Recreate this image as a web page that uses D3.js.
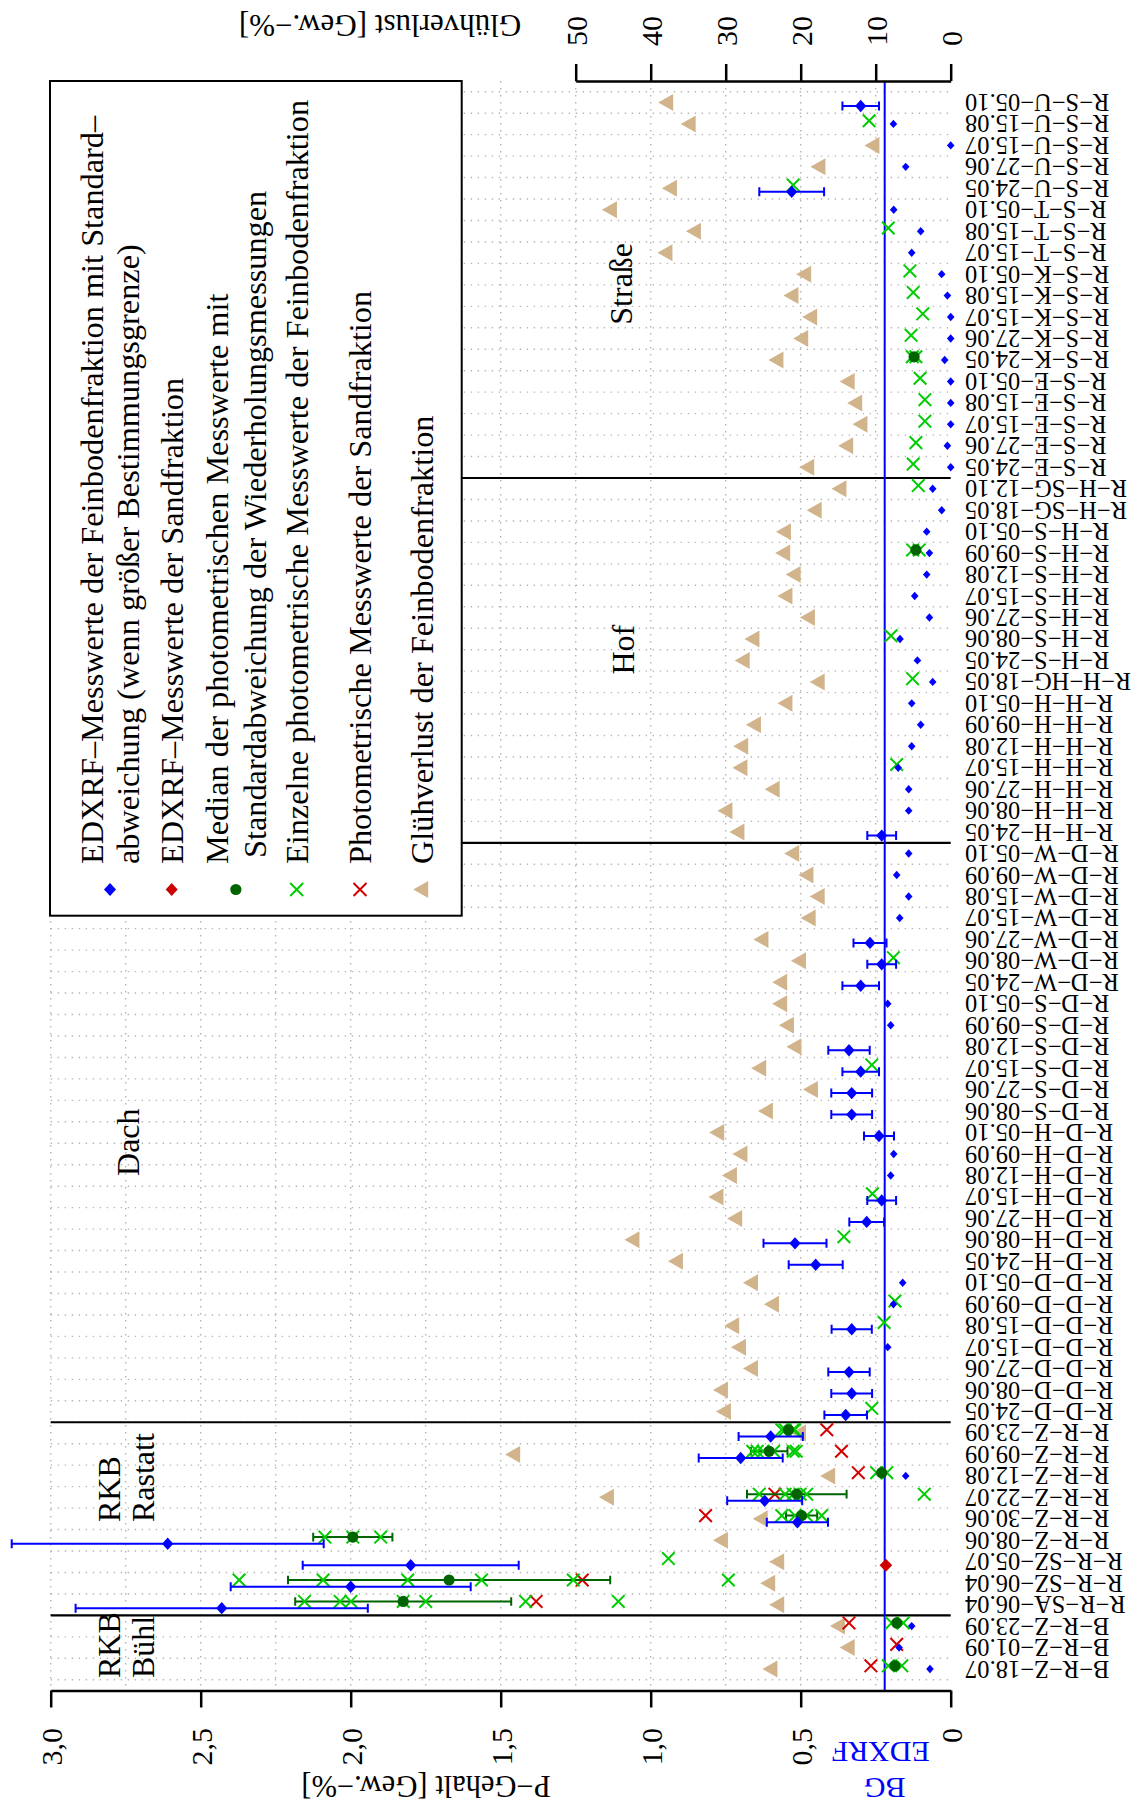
<!DOCTYPE html>
<html>
<head>
<meta charset="utf-8">
<script src="https://cdn.jsdelivr.net/npm/d3@7"></script>
<style>
  html, body { margin: 0; padding: 0; background: #fff; }
  svg { display: block; }
</style>
</head>
<body>
<svg id="chart" width="1137" height="1809"></svg>
<script>
// Sample sites, listed from the first position on the category axis to the last
const categories = [
  "B-R-Z-18.07", "B-R-Z-01.09", "B-R-Z-23.09",
  "R-R-SA-06.04", "R-R-SZ-06.04", "R-R-SZ-05.07", "R-R-Z-08.06", "R-R-Z-30.06",
  "R-R-Z-22.07", "R-R-Z-12.08", "R-R-Z-09.09", "R-R-Z-23.09",
  "R-D-D-24.05", "R-D-D-08.06", "R-D-D-27.06", "R-D-D-15.07", "R-D-D-15.08", "R-D-D-09.09", "R-D-D-05.10",
  "R-D-H-24.05", "R-D-H-08.06", "R-D-H-27.06", "R-D-H-15.07", "R-D-H-12.08", "R-D-H-09.09", "R-D-H-05.10",
  "R-D-S-08.06", "R-D-S-27.06", "R-D-S-15.07", "R-D-S-12.08", "R-D-S-09.09", "R-D-S-05.10",
  "R-D-W-24.05", "R-D-W-08.06", "R-D-W-27.06", "R-D-W-15.07", "R-D-W-15.08", "R-D-W-09.09", "R-D-W-05.10",
  "R-H-H-24.05", "R-H-H-08.06", "R-H-H-27.06", "R-H-H-15.07", "R-H-H-12.08", "R-H-H-09.09", "R-H-H-05.10",
  "R-H-HG-18.05",
  "R-H-S-24.05", "R-H-S-08.06", "R-H-S-27.06", "R-H-S-15.07", "R-H-S-12.08", "R-H-S-09.09", "R-H-S-05.10",
  "R-H-SG-18.05", "R-H-SG-12.10",
  "R-S-E-24.05", "R-S-E-27.06", "R-S-E-15.07", "R-S-E-15.08", "R-S-E-05.10",
  "R-S-K-24.05", "R-S-K-27.06", "R-S-K-15.07", "R-S-K-15.08", "R-S-K-05.10",
  "R-S-T-15.07", "R-S-T-15.08", "R-S-T-05.10",
  "R-S-U-24.05", "R-S-U-27.06", "R-S-U-15.07", "R-S-U-15.08", "R-S-U-05.10"
];

// Glühverlust der Feinbodenfraktion [Gew.-%], one value per site
const gluehverlust = [
  24.1, 13.8, 15.1,
  23.2, 24.4, 23.2, 30.7, 25.4, 45.9, 16.4, 58.4, 20.3,
  30.3, 30.7, 26.7, 28.3, 29.2, 23.9, 26.7,
  36.7, 42.5, 28.8, 31.3, 29.5, 28.1, 31.2,
  24.7, 18.7, 25.6, 20.9, 21.9, 22.8,
  22.8, 20.3, 25.3, 19.0, 17.8, 19.3, 21.2,
  28.5, 30.1, 23.8, 28.1, 28.0, 26.3, 22.1,
  17.8,
  27.8, 26.5, 19.1, 22.1, 21.0, 22.4, 22.3,
  18.2, 14.9,
  19.2, 14.0, 12.1, 12.8, 13.8,
  23.3, 20.0, 18.8, 21.3, 19.6,
  38.1, 34.3, 45.5,
  37.5, 17.7, 10.5, 35.0, 38.0
];

// EDXRF P content of the fine fraction [Gew.-%]
const edxrfFine = [
  0.069, 0.172, 0.13,
  2.43, 2.00, 1.80, 2.61, 0.511, 0.62, 0.15, 0.70, 0.60,
  0.35, 0.33, 0.339, 0.21, 0.33, 0.191, 0.16,
  0.45, 0.519, 0.28, 0.23, 0.20, 0.19, 0.239,
  0.33, 0.33, 0.30, 0.339, 0.20, 0.21,
  0.30, 0.23, 0.269, 0.17, 0.14, 0.18, 0.14,
  0.23, 0.14, 0.14, 0.175, 0.13, 0.10, 0.13,
  0.06,
  0.111, 0.169, 0.071, 0.12, 0.08, 0.071, 0.08,
  0.03, 0.06,
  0, 0.011, 0, 0, 0,
  0.02, 0, 0, 0.011, 0.03,
  0.13, 0.10, 0.19,
  0.53, 0.15, 0, 0.191, 0.30
];

// Standard deviation of the EDXRF values (only above the detection limit)
const edxrfFineSd = [
  null, null, null,
  0.487, 0.40, 0.36, 0.52, 0.102, 0.125, null, 0.14, 0.107,
  0.071, 0.068, 0.069, null, 0.067, null, null,
  0.09, 0.105, 0.058, 0.048, null, null, 0.05,
  0.068, 0.068, 0.061, 0.069, null, null,
  0.061, 0.048, 0.055, null, null, null, null,
  0.048, null, null, null, null, null, null,
  null,
  null, null, null, null, null, null, null,
  null, null,
  null, null, null, null, null,
  null, null, null, null, null,
  null, null, null,
  0.108, null, null, null, 0.061
];

// Bestimmungsgrenze of the EDXRF method [Gew.-%]
const bgEdxrf = 0.22;

// EDXRF P content of the sand fraction
const edxrfSandCats = ["R-R-SZ-05.07"];
const edxrfSandValues = [0.216];

// Photometric P content of the fine fraction: single readings, median and sd
const photoCats = [
  "B-R-Z-18.07", "B-R-Z-23.09", "R-R-SA-06.04", "R-R-SZ-06.04", "R-R-SZ-05.07",
  "R-R-Z-08.06", "R-R-Z-30.06", "R-R-Z-22.07", "R-R-Z-12.08", "R-R-Z-09.09", "R-R-Z-23.09",
  "R-D-D-24.05", "R-D-D-15.08", "R-D-D-09.09", "R-D-H-08.06", "R-D-H-15.07", "R-D-S-15.07",
  "R-D-W-08.06", "R-H-H-15.07", "R-H-HG-18.05", "R-H-S-08.06", "R-H-S-09.09", "R-H-SG-12.10",
  "R-S-E-24.05", "R-S-E-27.06", "R-S-E-15.07", "R-S-E-15.08", "R-S-E-05.10",
  "R-S-K-24.05", "R-S-K-27.06", "R-S-K-15.07", "R-S-K-15.08", "R-S-K-05.10",
  "R-S-T-15.08", "R-S-U-24.05", "R-S-U-15.08"
];
const photoSingles = [
  [0.208, 0.163], [0.197, 0.158], [2.154, 2.035, 1.999, 1.825, 1.75, 1.417, 1.108],
  [2.372, 2.092, 1.81, 1.564, 1.258, 0.741], [0.941],
  [2.086, 1.993, 1.9], [0.563, 0.519, 0.48, 0.43], [0.638, 0.552, 0.525, 0.502, 0.48, 0.088],
  [0.247, 0.213], [0.66, 0.645, 0.625, 0.59, 0.525, 0.515], [0.563, 0.552, 0.525, 0.52],
  [0.263], [0.222], [0.186], [0.356], [0.261], [0.263],
  [0.191], [0.18], [0.127], [0.199], [0.127, 0.105], [0.108],
  [0.125], [0.116], [0.086], [0.086], [0.102],
  [0.128, 0.116], [0.132], [0.093], [0.125], [0.136],
  [0.208], [0.525], [0.272]
];
const photoMedian = [
  0.186, 0.18, 1.825, 1.672, null,
  1.993, 0.497, 0.513, 0.23, 0.605, 0.541,
  null, null, null, null, null, null,
  null, null, null, null, 0.116, null,
  null, null, null, null, null,
  0.122, null, null, null, null,
  null, null, null
];
const photoSd = [
  null, null, 0.36, 0.537, null,
  0.132, 0.052, 0.166, null, 0.061, null,
  null, null, null, null, null, null,
  null, null, null, null, null, null,
  null, null, null, null, null,
  null, null, null, null, null,
  null, null, null
];

// Photometric P content of the sand fraction
const sandPhotoCats = ["B-R-Z-18.07", "B-R-Z-01.09", "B-R-Z-23.09", "R-R-SA-06.04", "R-R-SZ-06.04",
  "R-R-Z-30.06", "R-R-Z-22.07", "R-R-Z-12.08", "R-R-Z-09.09", "R-R-Z-23.09"];
const sandPhotoValues = [0.266, 0.18, 0.339, 1.382, 1.228, 0.817, 0.586, 0.308, 0.364, 0.413];

// Last site of each sampling area (a solid line follows it)
const groupEnds = ["B-R-Z-23.09", "R-R-Z-23.09", "R-D-W-05.10", "R-H-SG-12.10"];

// Area captions: text lines, P-axis value of the first line, category position, anchor
const groupLabels = [
  { lines: ["RKB", "Bühl"], p: 2.807, pos: 0.58, anchor: "start" },
  { lines: ["RKB", "Rastatt"], p: 2.807, pos: 7.85, anchor: "start" },
  { lines: ["Dach"], p: 2.742, pos: 25.55, anchor: "middle" },
  { lines: ["Hof"], p: 1.092, pos: 48.5, anchor: "middle" },
  { lines: ["Straße"], p: 1.099, pos: 65.55, anchor: "middle" }
];

const pTicks = [0, 0.5, 1, 1.5, 2, 2.5, 3];
const pTickLabels = ["0", "0,5", "1,0", "1,5", "2,0", "2,5", "3,0"];
const gTicks = [0, 10, 20, 30, 40, 50];
const gTickLabels = ["0", "10", "20", "30", "40", "50"];

const legendItems = [
  { lines: ["EDXRF–Messwerte der Feinbodenfraktion mit Standard–", "abweichung (wenn größer Bestimmungsgrenze)"], sym: "blueDiamond" },
  { lines: ["EDXRF–Messwerte der Sandfraktion"], sym: "redDiamond" },
  { lines: ["Median der photometrischen Messwerte mit", "Standardabweichung der Wiederholungsmessungen"], sym: "greenDot" },
  { lines: ["Einzelne photometrische Messwerte der Feinbodenfraktion"], sym: "greenCross" },
  { lines: ["Photometrische Messwerte der Sandfraktion"], sym: "redCross" },
  { lines: ["Glühverlust der Feinbodenfraktion"], sym: "triangle" }
];

// ---------------------------------------------------------------- drawing
const C = {
  blue: "#0000ff", red: "#d40000", redDia: "#cc0000",
  green: "#00cc00", darkGreen: "#006400", tan: "#d2b48c", grid: "#b5b5b5"
};
const FONT = "'Liberation Serif', 'Times New Roman', serif";

const svg = d3.select("#chart");
svg.append("rect").attr("width", 1137).attr("height", 1809).attr("fill", "#fff");

// Category positions run upwards, P content runs leftwards
const yPos = d3.scaleLinear().domain([0, 75]).range([1690.5, 81]);
const xP = d3.scaleLinear().domain([0, 3]).range([950.7, 50.7]);
const xG = d3.scaleLinear().domain([0, 50]).range([950.7, 575.7]);
const pos = c => categories.indexOf(c) + 1;
const label = s => s.replace(/-/g, "\u2212");

const diamond = (cx, cy, hx, hy) => `M${cx - hx},${cy}L${cx},${cy - hy}L${cx + hx},${cy}L${cx},${cy + hy}Z`;
const cross = (cx, cy, h) => `M${cx - h},${cy - h}L${cx + h},${cy + h}M${cx - h},${cy + h}L${cx + h},${cy - h}`;
const triangle = (cx, cy) => `M${cx - 7.5},${cy}L${cx + 7.5},${cy - 8.5}L${cx + 7.5},${cy + 8.5}Z`;
const errBar = (x1, x2, y, cap) => `M${x1},${y}H${x2}M${x1},${y - cap}V${y + cap}M${x2},${y - cap}V${y + cap}`;

const DY_PHOTO = -3.2, DY_EDX = 3.5;

// dotted grid
const grid = svg.append("g").attr("stroke", C.grid).attr("stroke-width", 1.4)
  .attr("stroke-dasharray", "1.4,5.6").attr("fill", "none");
grid.selectAll("line.h").data(d3.range(0.5, 75, 1)).join("line").attr("class", "h")
  .attr("x1", xP(3)).attr("x2", xP(0)).attr("y1", d => yPos(d)).attr("y2", d => yPos(d));
grid.selectAll("line.v").data(d3.range(0.25, 3.01, 0.25)).join("line").attr("class", "v")
  .attr("x1", d => xP(d)).attr("x2", d => xP(d)).attr("y1", yPos(75)).attr("y2", yPos(0));

// area separators
svg.append("g").selectAll("line").data(groupEnds).join("line")
  .attr("x1", xP(3)).attr("x2", xP(0))
  .attr("y1", d => yPos(pos(d) + 0.5)).attr("y2", d => yPos(pos(d) + 0.5))
  .attr("stroke", "#000").attr("stroke-width", 2.2);

// EDXRF detection limit
svg.append("line").attr("x1", xP(bgEdxrf)).attr("x2", xP(bgEdxrf))
  .attr("y1", yPos(75)).attr("y2", yPos(0)).attr("stroke", C.blue).attr("stroke-width", 2);

// Glühverlust triangles
svg.append("g").selectAll("path").data(gluehverlust).join("path")
  .attr("d", (d, i) => triangle(xG(d), yPos(i + 1))).attr("fill", C.tan);

// photometric sand values
svg.append("g").selectAll("path").data(sandPhotoValues).join("path")
  .attr("d", (d, i) => cross(xP(d), yPos(pos(sandPhotoCats[i])) + DY_PHOTO, 6.3))
  .attr("stroke", C.red).attr("stroke-width", 2).attr("fill", "none");

// photometric fine fraction: error bars, single readings, medians
const photo = photoCats.map((c, i) => ({ y: yPos(pos(c)) + DY_PHOTO, singles: photoSingles[i], med: photoMedian[i], sd: photoSd[i] }));
svg.append("g").selectAll("path").data(photo.filter(d => d.med != null && d.sd != null)).join("path")
  .attr("d", d => errBar(xP(d.med + d.sd), xP(d.med - d.sd), d.y, 4.3))
  .attr("stroke", C.darkGreen).attr("stroke-width", 2).attr("fill", "none");
svg.append("g").selectAll("path").data(photo.flatMap(d => d.singles.map(v => ({ v, y: d.y })))).join("path")
  .attr("d", d => cross(xP(d.v), d.y, 6.3))
  .attr("stroke", C.green).attr("stroke-width", 2).attr("fill", "none");
svg.append("g").selectAll("circle").data(photo.filter(d => d.med != null)).join("circle")
  .attr("cx", d => xP(d.med)).attr("cy", d => d.y).attr("r", 5.6).attr("fill", C.darkGreen);

// EDXRF fine fraction: error bars and diamonds
const edx = edxrfFine.map((v, i) => ({ v, sd: edxrfFineSd[i], big: v > bgEdxrf, y: yPos(i + 1) }));
svg.append("g").selectAll("path").data(edx.filter(d => d.sd != null)).join("path")
  .attr("d", d => errBar(xP(d.v + d.sd), xP(d.v - d.sd), d.y + DY_EDX, 4.5))
  .attr("stroke", C.blue).attr("stroke-width", 2).attr("fill", "none");
svg.append("g").selectAll("path").data(edx).join("path")
  .attr("d", d => d.big ? diamond(xP(d.v), d.y + DY_EDX, 5.6, 6.2) : diamond(xP(d.v), d.y, 3.8, 4.2))
  .attr("fill", C.blue);

// EDXRF sand fraction
svg.append("g").selectAll("path").data(edxrfSandValues).join("path")
  .attr("d", (d, i) => diamond(xP(d), yPos(pos(edxrfSandCats[i])) + DY_EDX, 6.3, 6.6))
  .attr("fill", C.redDia);

// ---------------------------------------------------------------- axes
function styleAxis(g) {
  g.attr("font-family", FONT).attr("font-size", 30);
  g.selectAll("path, line").attr("stroke", "#000").attr("stroke-width", 2.5);
  g.selectAll("text").attr("fill", "#000");
}
const axP = svg.append("g").attr("transform", `translate(0,${yPos(0)})`)
  .call(d3.axisBottom(xP).tickValues(pTicks).tickFormat((d, i) => pTickLabels[i]).tickSize(17).tickSizeOuter(0));
styleAxis(axP);
axP.selectAll(".tick text").attr("x", 0).attr("y", 0).attr("dy", null)
  .attr("transform", "translate(0,37.5) rotate(-90)")
  .attr("text-anchor", "end").attr("dominant-baseline", "central");

const axG = svg.append("g").attr("transform", `translate(0,${yPos(75)})`)
  .call(d3.axisTop(xG).tickValues(gTicks).tickFormat((d, i) => gTickLabels[i]).tickSize(17).tickSizeOuter(0));
styleAxis(axG);
axG.selectAll(".tick text").attr("x", 0).attr("y", 0).attr("dy", null)
  .attr("transform", "translate(0,-35) rotate(-90)")
  .attr("text-anchor", "start").attr("dominant-baseline", "central");

// axis titles (upside down)
const upside = (x, y, text, color, size) => svg.append("text")
  .attr("transform", `translate(${x},${y}) rotate(180)`)
  .attr("text-anchor", "middle").attr("dominant-baseline", "central")
  .attr("font-family", FONT).attr("font-size", size || 30).attr("fill", color || "#000").text(text);
upside(426, 1786, "P\u2212Gehalt [Gew.\u2212%]", "#000", 30.5);
upside(380, 25, "Glühverlust [Gew.\u2212%]", "#000", 31);
upside(xP(bgEdxrf) - 4, 1752, "EDXRF", C.blue);
upside(xP(bgEdxrf), 1788, "BG", C.blue);

// category labels
svg.append("g").selectAll("text").data(categories).join("text")
  .attr("transform", (d, i) => `translate(965,${yPos(i + 1)}) rotate(180)`)
  .attr("text-anchor", "end").attr("dominant-baseline", "central")
  .attr("font-family", FONT).attr("font-size", 24.5).text(d => label(d));

// area captions
groupLabels.forEach(gl => {
  gl.lines.forEach((line, k) => {
    svg.append("text")
      .attr("transform", `translate(${xP(gl.p) + k * 34},${yPos(gl.pos)}) rotate(-90)`)
      .attr("text-anchor", gl.anchor).attr("dominant-baseline", "central")
      .attr("font-family", FONT).attr("font-size", 32).text(line);
  });
});

// ---------------------------------------------------------------- legend
const leg = svg.append("g");
leg.append("rect").attr("x", 50).attr("y", 81).attr("width", 411.7).attr("height", 834.7)
  .attr("fill", "#fff").attr("stroke", "#000").attr("stroke-width", 2);
const lineX = [[91.7, 128.3], [171.7], [216.7, 255], [296.7], [360], [421.7]];
const symY = 889.5, textY = 864;
legendItems.forEach((it, i) => {
  const xs = lineX[i];
  const sx = d3.mean(xs);
  it.lines.forEach((t, k) => {
    leg.append("text")
      .attr("transform", `translate(${xs[k]},${textY - (i === 2 && k === 1 ? 6 : 0)}) rotate(-90)`)
      .attr("text-anchor", "start").attr("dominant-baseline", "central")
      .attr("font-family", FONT).attr("font-size", 32.3).text(t);
  });
  if (it.sym === "blueDiamond") leg.append("path").attr("d", diamond(sx, symY, 6, 6.5)).attr("fill", C.blue);
  if (it.sym === "redDiamond") leg.append("path").attr("d", diamond(sx, symY, 6, 6.5)).attr("fill", C.redDia);
  if (it.sym === "greenDot") leg.append("circle").attr("cx", sx).attr("cy", symY).attr("r", 5.6).attr("fill", C.darkGreen);
  if (it.sym === "greenCross") leg.append("path").attr("d", cross(sx, symY, 6.5)).attr("stroke", C.green).attr("stroke-width", 2).attr("fill", "none");
  if (it.sym === "redCross") leg.append("path").attr("d", cross(sx, symY, 6.5)).attr("stroke", C.red).attr("stroke-width", 2).attr("fill", "none");
  if (it.sym === "triangle") leg.append("path").attr("d", triangle(sx - 1, symY)).attr("fill", C.tan);
});
</script>
</body>
</html>
